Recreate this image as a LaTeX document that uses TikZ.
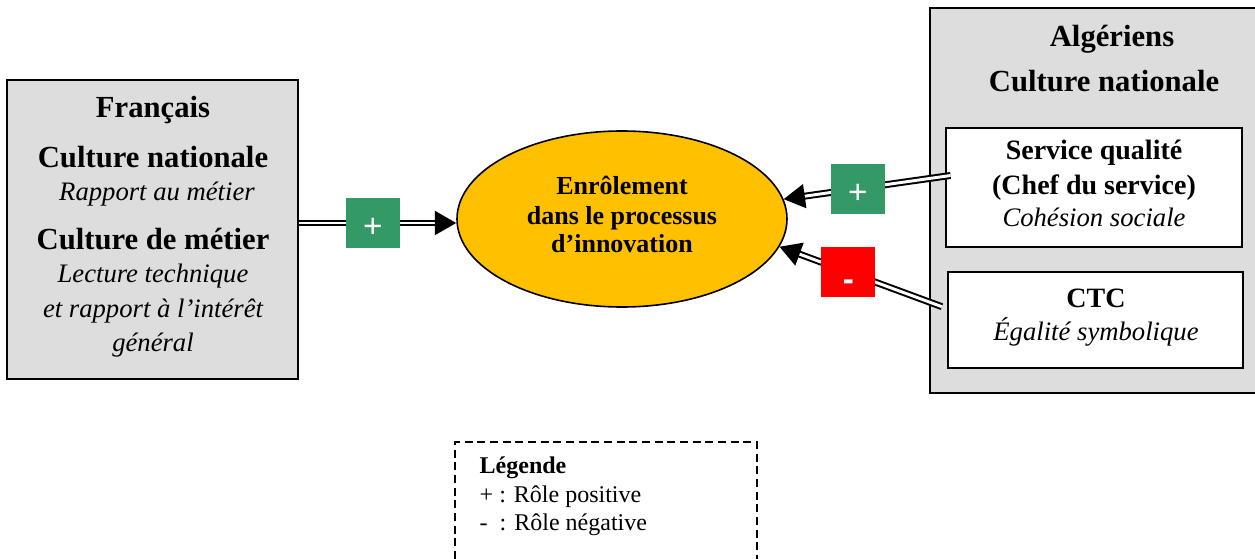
\documentclass[tikz,border=0pt]{standalone}
\usepackage{fontspec}
\setmainfont{Liberation Serif}
\newfontfamily\badgefont{Liberation Sans}
\usetikzlibrary{arrows.meta,shapes.geometric}

\definecolor{fondgris}{RGB}{221,221,221}
\definecolor{jaune}{RGB}{255,192,0}
\definecolor{vertbadge}{RGB}{51,153,102}
\definecolor{rougebadge}{RGB}{255,0,0}

\tikzset{
  box/.style={draw=black, line width=1.2pt, fill=fondgris},
  inbox/.style={draw=black, line width=1.2pt, fill=white},
  hdr/.style={anchor=base, font=\fontsize{23}{26}\selectfont\bfseries},
  sub/.style={anchor=base, font=\fontsize{21}{24}\selectfont\bfseries},
  ital/.style={anchor=base, font=\fontsize{20}{23}\selectfont\itshape},
  legtxt/.style={anchor=base west, font=\fontsize{18}{20}\selectfont},
  dbl/.style={draw=black, line width=1.5pt, double=white, double distance=2.2pt,
    -{Triangle[length=16pt,width=18pt]}},
  badge/.style={fill=#1, text=white, minimum width=40.5pt, minimum height=37.5pt,
    inner sep=0pt, font=\badgefont\fontsize{25}{25}\selectfont}
}

\begin{document}
\begin{tikzpicture}[x=0.75pt, y=-0.75pt]
  \useasboundingbox[fill=white] (0,0) rectangle (1255,559);

  % Francais
  \node[box, minimum width=218.25pt, minimum height=224.25pt, inner sep=0pt] (fr) at (152.5,229.5) {};
  \node[hdr] (frnom) at (153,118) {Français};
  \node[hdr] (frcult) at (153,168) {Culture nationale};
  \node[ital] (frrapp) at (157,201) {Rapport au métier};
  \node[hdr] (frmet) at (153,250) {Culture de métier};
  \node[ital] (frlect) at (153,283) {Lecture technique};
  \node[ital] (frint) at (153,317) {et rapport à l’intérêt};
  \node[ital] (frgen) at (153,351) {général};

  % Enrolement
  \node[ellipse, draw=black, line width=1.2pt, fill=jaune, minimum width=247.5pt,
    minimum height=132pt, inner sep=0pt] (enr) at (622,219) {};
  \node[anchor=base, font=\fontsize{19.5}{22}\selectfont\bfseries] (enr1) at (622,195) {Enrôlement};
  \node[anchor=base, font=\fontsize{19.5}{22}\selectfont\bfseries] (enr2) at (622,225) {dans le processus};
  \node[anchor=base, font=\fontsize{19.5}{22}\selectfont\bfseries] (enr3) at (622,253) {d’innovation};

  % Algeriens
  \fill[fondgris] (930,8) rectangle (1255,393);
  \draw[line width=1.2pt] (1256,8) -- (930,8) -- (930,393) -- (1256,393);
  \node[hdr] (alnom) at (1112,47) {Algériens};
  \node[hdr] (alcult) at (1104,92) {Culture nationale};

  \node[inbox, minimum width=222pt, minimum height=89.25pt, inner sep=0pt] (sq) at (1094,187.5) {};
  \node[sub] (sq1) at (1094,160) {Service qualité};
  \node[sub] (sq2) at (1094,195) {(Chef du service)};
  \node[ital] (sq3) at (1094,227) {Cohésion sociale};

  \node[inbox, minimum width=221.25pt, minimum height=72pt, inner sep=0pt] (ctc) at (1095.5,320) {};
  \node[sub] (ctc1) at (1096,308) {CTC};
  \node[ital] (ctc2) at (1096,340) {Égalité symbolique};

  % connecteurs
  \draw[dbl] ([yshift=-3pt]enr.west -| fr.east) -- ([yshift=-3pt]enr.west)
    node[badge=vertbadge, pos=0.47] (b1) {\raisebox{-11pt}[0pt][0pt]{+}};
  \draw[dbl] ([shift={(4pt,9pt)}]sq.west) -- (enr.7)
    node[badge=vertbadge, pos=0.556] (b2) {\raisebox{-11pt}[0pt][0pt]{+}};
  \draw[dbl] ([shift={(-4pt,10pt)}]ctc.west) -- (enr.-10.5)
    node[badge=rougebadge, pos=0.576] (b3) {\raisebox{-14pt}[0pt][0pt]{\textbf{-}}};

  % legende
  \draw[line width=1.4pt, dash pattern=on 6pt off 3.5pt] (455,559) -- (455,442) -- (757,442) -- (757,559);
  \node[legtxt, font=\fontsize{18}{20}\selectfont\bfseries] (leg1) at (475,473) {Légende};
  \node[legtxt] (leg2) at (475,502) {+ : Rôle positive};
  \node[legtxt] (leg3) at (475,530) {-\ \ : Rôle négative};
\end{tikzpicture}
\end{document}
